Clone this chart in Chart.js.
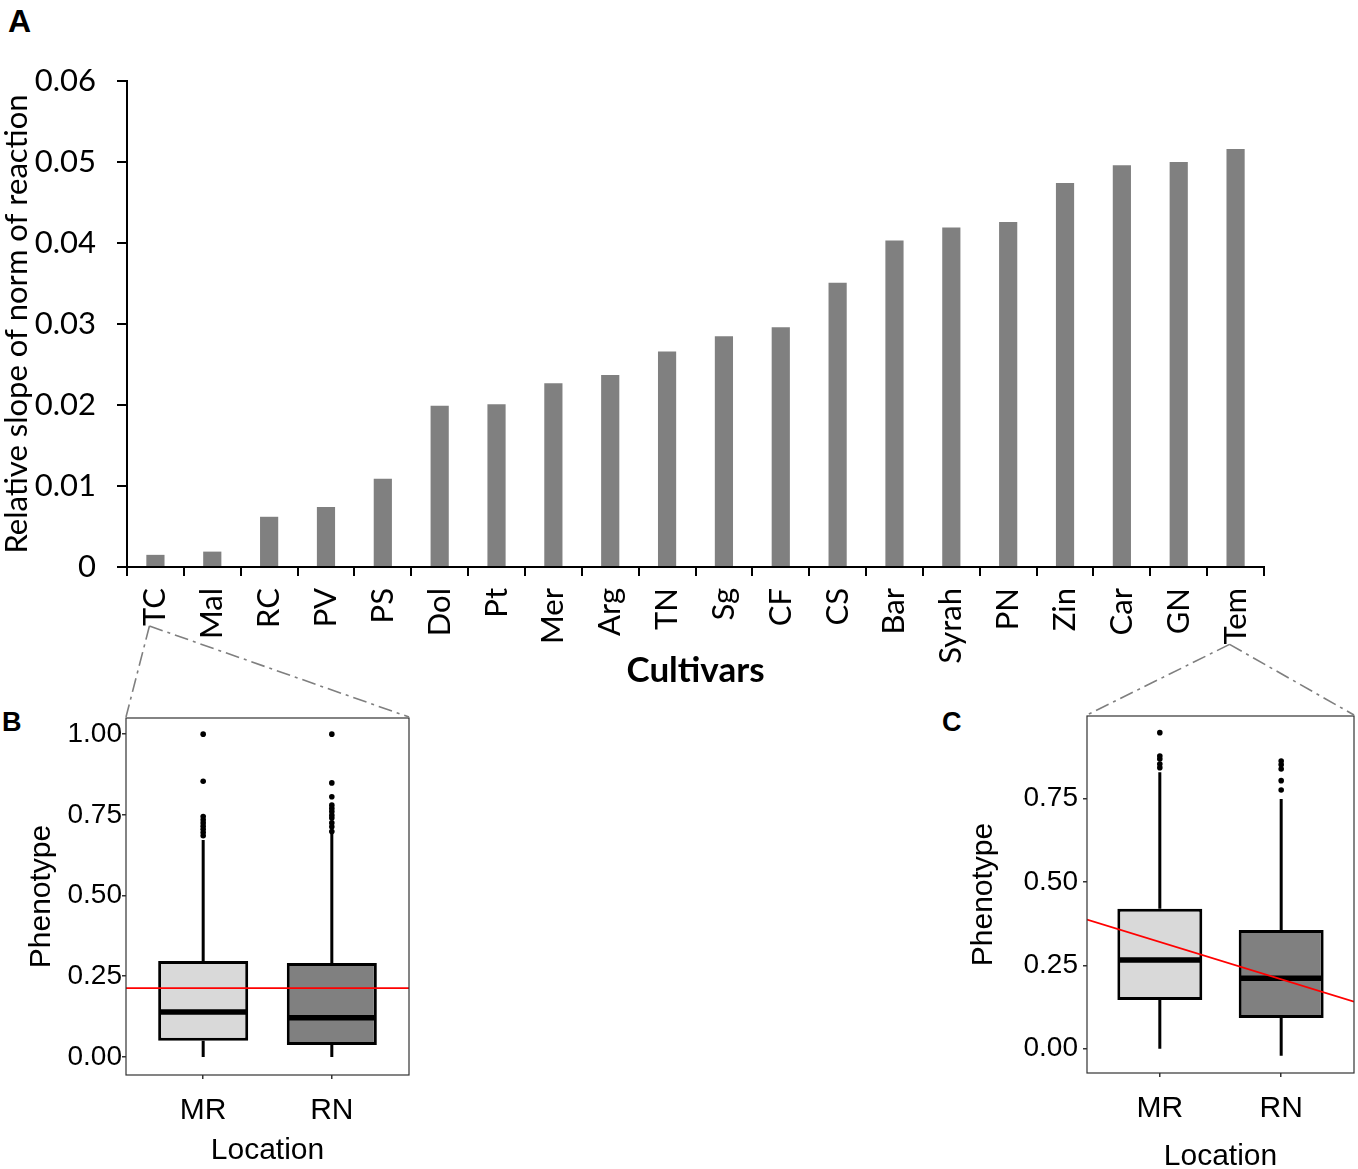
<!DOCTYPE html>
<html>
<head>
<meta charset="utf-8">
<script src="https://cdn.jsdelivr.net/npm/chart.js@4.4.1/dist/chart.umd.min.js"></script>
<style>
html, body { margin:0; padding:0; background:#fff; width:1358px; height:1169px; overflow:hidden; position:relative; }
canvas { position:absolute; }
.lab { position:absolute; font-family:"Liberation Sans", Arial, sans-serif; font-weight:bold; line-height:1; color:#000; }
</style>
</head>
<body>
<div class="lab" style="left:8px;top:5px;font-size:32px">A</div>
<div class="lab" style="left:2px;top:709px;font-size:27px">B</div>
<div class="lab" style="left:942px;top:709px;font-size:27px">C</div>
<canvas id="cA" width="1358" height="700" style="left:0;top:0"></canvas>
<canvas id="cB" width="420" height="469" style="left:0;top:700px"></canvas>
<canvas id="cC" width="418" height="500" style="left:940px;top:690px"></canvas>
<canvas id="links" width="1358" height="1169" style="left:0;top:0;pointer-events:none"></canvas>
<script>
// panel A: slope of norm of reaction per cultivar
var cultivars = ['TC','Mal','RC','PV','PS','Dol','Pt','Mer','Arg','TN','Sg','CF','CS','Bar','Syrah','PN','Zin','Car','GN','Tem'];
var slopes = [0.0015,0.0019,0.0062,0.0074,0.0109,0.0199,0.0201,0.0227,0.0237,0.0266,0.0285,0.0296,0.0351,0.0403,0.0419,0.0426,0.0474,0.0496,0.0500,0.0516];

// panel B: TC boxplots
var locations = ['MR','RN'];
var tcLower  = [0.000, 0.000];
var tcQ1     = [0.050, 0.037];
var tcMedian = [0.139, 0.121];
var tcQ3     = [0.297, 0.291];
var tcUpper  = [0.672, 0.697];
var tcOutMR  = [0.685, 0.695, 0.705, 0.715, 0.725, 0.735, 0.745, 0.854, 1.000];
var tcOutRN  = [0.698, 0.713, 0.725, 0.740, 0.749, 0.760, 0.770, 0.780, 0.806, 0.849, 1.000];
var tcFitEnds = [0.213, 0.213];
var tcTicks = [0, 0.25, 0.5, 0.75, 1.0];

// panel C: Tem boxplots
var temLower  = [0.000, -0.021];
var temQ1     = [0.146, 0.092];
var temMedian = [0.266, 0.211];
var temQ3     = [0.420, 0.356];
var temUpper  = [0.829, 0.749];
var temOutMR  = [0.843, 0.854, 0.869, 0.878, 0.948];
var temOutRN  = [0.776, 0.804, 0.839, 0.852, 0.863];
var temFitEnds = [0.387, 0.141];
var temTicks = [0, 0.25, 0.5, 0.75];

var boxFills = ['#d9d9d9', '#808080'];
var xSpan = [0.4, 2.6];

var fontA = 'Lato';
var fontB = '"Liberation Sans", Arial, sans-serif';

function $(id) { return document.getElementById(id); }

var chartA = new Chart($('cA'), {
    type: 'bar',
    data: {
        labels: cultivars,
        datasets: [{ data: slopes, backgroundColor: '#808080', categoryPercentage: 1, barPercentage: 0.32 }]
    },
    options: {
        responsive: false,
        animation: false,
        layout: { padding: { top: 81, right: 94, left: 0, bottom: 0 } },
        plugins: { legend: { display: false }, tooltip: { enabled: false } },
        scales: {
            x: {
                afterFit: function(s) { s.height = 133; },
                grid: { drawOnChartArea: false, offset: true, color: '#000', lineWidth: 2, tickLength: 9 },
                border: { display: true, color: '#000', width: 2 },
                ticks: { minRotation: 90, maxRotation: 90, padding: 12, color: '#000', font: { family: fontA, size: 31 }, autoSkip: false },
                title: { display: true, text: 'Cultivars', color: '#000', font: { family: fontA, size: 35, weight: 'bold' }, padding: { top: 0, bottom: 8 } }
            },
            y: {
                min: 0, max: 0.06,
                afterFit: function(s) { s.width = 127; },
                grid: { drawOnChartArea: false, color: '#000', lineWidth: 2, tickLength: 10 },
                border: { display: true, color: '#000', width: 2 },
                ticks: { stepSize: 0.01, padding: 21, color: '#000', font: { family: fontA, size: 31 } },
                title: { display: true, text: 'Relative slope of norm of reaction', color: '#000', font: { family: fontA, size: 31, lineHeight: 1.1 }, padding: 0 }
            }
        }
    }
});

// whiskers, medians and panel frame for the boxplots
var boxPlugin = {
    id: 'boxParts',
    afterDatasetDraw: function(chart, args) {
        if (args.index !== 0) return;
        var st = chart.options.plugins.boxParts;
        var y = chart.scales.y, ctx = chart.ctx;
        ctx.save();
        ctx.strokeStyle = '#000';
        args.meta.data.forEach(function(bar, i) {
            ctx.lineWidth = 3;
            ctx.beginPath();
            ctx.moveTo(bar.x, y.getPixelForValue(st.q3[i]));
            ctx.lineTo(bar.x, y.getPixelForValue(st.upper[i]));
            ctx.moveTo(bar.x, y.getPixelForValue(st.q1[i]));
            ctx.lineTo(bar.x, y.getPixelForValue(st.lower[i]));
            ctx.stroke();
            ctx.lineWidth = 5.5;
            ctx.beginPath();
            var m = y.getPixelForValue(st.median[i]);
            ctx.moveTo(bar.x - bar.width / 2 + 1, m);
            ctx.lineTo(bar.x + bar.width / 2 - 1, m);
            ctx.stroke();
        });
        ctx.restore();
    },
    afterDatasetsDraw: function(chart) {
        var a = chart.chartArea, ctx = chart.ctx;
        ctx.save();
        ctx.strokeStyle = '#333';
        ctx.lineWidth = 1.2;
        ctx.strokeRect(a.left, a.top, a.right - a.left, a.bottom - a.top);
        ctx.restore();
    }
};

function boxChart(id, cfg) {
    var outliers = [];
    cfg.outMR.forEach(function(v) { outliers.push({ x: 1, y: v }); });
    cfg.outRN.forEach(function(v) { outliers.push({ x: 2, y: v }); });
    return new Chart($(id), {
        type: 'bar',
        plugins: [boxPlugin],
        data: {
            datasets: [
                {
                    type: 'bar', order: 3,
                    data: locations.map(function(l, i) { return { x: i + 1, y: [cfg.q1[i], cfg.q3[i]] }; }),
                    backgroundColor: boxFills, borderColor: '#000', borderWidth: 3, borderSkipped: false,
                    categoryPercentage: 1, barPercentage: 0.7
                },
                {
                    type: 'scatter', order: 2, data: outliers,
                    pointRadius: 2.8, pointBackgroundColor: '#000', pointBorderWidth: 0
                },
                {
                    type: 'line', order: 1,
                    data: [{ x: xSpan[0], y: cfg.fit[0] }, { x: xSpan[1], y: cfg.fit[1] }],
                    borderColor: '#ff0000', borderWidth: 1.8, pointRadius: 0, fill: false
                }
            ]
        },
        options: {
            responsive: false,
            animation: false,
            layout: { padding: cfg.pad },
            plugins: {
                legend: { display: false }, tooltip: { enabled: false },
                boxParts: { q1: cfg.q1, q3: cfg.q3, median: cfg.median, lower: cfg.lower, upper: cfg.upper }
            },
            scales: {
                x: {
                    type: 'linear', min: xSpan[0], max: xSpan[1], offset: false,
                    afterFit: function(s) { s.height = cfg.xh; },
                    afterBuildTicks: function(s) { s.ticks = locations.map(function(l, i) { return { value: i + 1 }; }); },
                    grid: { drawOnChartArea: false, offset: false, color: '#333', lineWidth: 1.5, tickLength: 4 },
                    border: { display: false },
                    ticks: {
                        padding: cfg.xpad, color: '#000', font: { family: fontB, size: 30 },
                        callback: function(v) { return locations[v - 1]; }
                    },
                    title: { display: true, text: 'Location', color: '#000', font: { family: fontB, size: 30 }, padding: { top: 0, bottom: cfg.tpad } }
                },
                y: {
                    min: cfg.ymin, max: cfg.ymax,
                    afterFit: function(s) { s.width = cfg.yw; },
                    afterBuildTicks: function(s) { s.ticks = cfg.ticks.map(function(v) { return { value: v }; }); },
                    grid: { drawOnChartArea: false, color: '#333', lineWidth: 1.5, tickLength: 4 },
                    border: { display: false },
                    ticks: {
                        padding: cfg.ypad, color: '#000', font: { family: fontB, size: 28 },
                        callback: function(v) { return v.toFixed(2); }
                    },
                    title: { display: true, text: 'Phenotype', color: '#000', font: { family: fontB, size: 30 }, padding: { top: cfg.ytpad, bottom: 0 } }
                }
            }
        }
    });
}

var chartB = boxChart('cB', {
    q1: tcQ1, q3: tcQ3, median: tcMedian, lower: tcLower, upper: tcUpper,
    outMR: tcOutMR, outRN: tcOutRN, fit: tcFitEnds, ticks: tcTicks,
    ymin: -0.056, ymax: 1.05,
    pad: { top: 18, right: 11, left: 0, bottom: 0 },
    yw: 126, xh: 94, xpad: 14, tpad: 0, ypad: 0, ytpad: 24
});

var chartC = boxChart('cC', {
    q1: temQ1, q3: temQ3, median: temMedian, lower: temLower, upper: temUpper,
    outMR: temOutMR, outRN: temOutRN, fit: temFitEnds, ticks: temTicks,
    ymin: -0.073, ymax: 0.998,
    pad: { top: 26, right: 4, left: 0, bottom: 0 },
    yw: 147, xh: 117, xpad: 14, tpad: 15, ypad: 5, ytpad: 26
});

// dash-dot zoom connectors from the cultivar labels to the panels
(function() {
    var ctx = $('links').getContext('2d');
    var xs = chartA.scales.x;
    ctx.font = '31px ' + fontA;
    function labelFoot(i) {
        return chartA.chartArea.bottom + 9 + 12 + ctx.measureText(cultivars[i]).width;
    }
    function link(i, chart, ox, oy) {
        var sx = xs.getPixelForValue(i) - 6, sy = labelFoot(i);
        var a = chart.chartArea;
        ctx.beginPath();
        ctx.moveTo(sx, sy); ctx.lineTo(ox + a.left, oy + a.top - 1);
        ctx.moveTo(sx, sy); ctx.lineTo(ox + a.right, oy + a.top - 1);
        ctx.stroke();
    }
    ctx.strokeStyle = '#7f7f7f';
    ctx.lineWidth = 1.6;
    ctx.setLineDash([14, 5, 3, 5]);
    link(0, chartB, 0, 700);
    link(cultivars.length - 1, chartC, 940, 690);
})();
</script>
</body>
</html>
